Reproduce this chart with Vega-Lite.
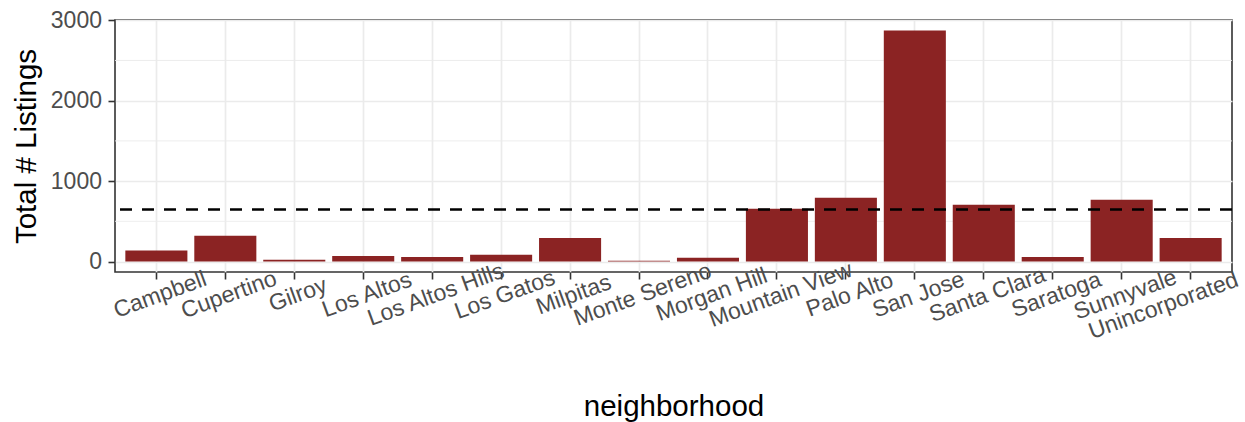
{
  "$schema": "https://vega.github.io/schema/vega-lite/v6.json",
  "autosize": {"type": "none"},
  "width": 1117,
  "height": 252,
  "padding": {"left": 115, "top": 20, "right": 13, "bottom": 150},
  "background": "white",
  "config": {
    "font": "Liberation Sans",
    "view": {"stroke": "#333333", "strokeWidth": 1.6},
    "axis": {
      "domain": false,
      "gridColor": "#EBEBEB",
      "gridWidth": 1.7,
      "tickColor": "#333333",
      "tickWidth": 1.6,
      "tickSize": 7,
      "labelColor": "#4D4D4D",
      "labelFont": "Liberation Sans",
      "labelFontSize": 23,
      "titleFont": "Liberation Sans",
      "titleFontSize": 29.5,
      "titleFontWeight": "normal",
      "titleColor": "#000000"
    }
  },
  "layer": [
    {
      "data": {"values": [{"n": 500}, {"n": 1500}, {"n": 2500}]},
      "mark": {"type": "rule", "color": "#EBEBEB", "strokeWidth": 0.9},
      "encoding": {
        "y": {"field": "n", "type": "quantitative", "scale": {"domain": [-130, 3003], "nice": false, "zero": false}}
      }
    },
    {
      "data": {
        "values": [
          {"neighborhood": "Campbell", "n": 137},
          {"neighborhood": "Cupertino", "n": 320},
          {"neighborhood": "Gilroy", "n": 21},
          {"neighborhood": "Los Altos", "n": 70},
          {"neighborhood": "Los Altos Hills", "n": 58},
          {"neighborhood": "Los Gatos", "n": 83},
          {"neighborhood": "Milpitas", "n": 294},
          {"neighborhood": "Monte Sereno", "n": 9},
          {"neighborhood": "Morgan Hill", "n": 46},
          {"neighborhood": "Mountain View", "n": 655},
          {"neighborhood": "Palo Alto", "n": 792},
          {"neighborhood": "San Jose", "n": 2873},
          {"neighborhood": "Santa Clara", "n": 705},
          {"neighborhood": "Saratoga", "n": 58},
          {"neighborhood": "Sunnyvale", "n": 767},
          {"neighborhood": "Unincorporated", "n": 294}
        ]
      },
      "mark": {"type": "bar", "color": "#8B2323"},
      "encoding": {
        "x": {
          "field": "neighborhood",
          "type": "nominal",
          "sort": null,
          "scale": {"paddingInner": 0.1, "paddingOuter": 0.15},
          "axis": {
            "title": "neighborhood",
            "grid": true,
            "bandPosition": 0.5,
            "labelAngle": -20,
            "labelAlign": "center",
            "labelBaseline": "top",
            "labelOffset": {"condition": {"test": "datum.value === 'Unincorporated'", "value": -31}, "value": 0},
            "labelPadding": {"condition": {"test": "datum.value === 'Unincorporated'", "value": 16}, "value": 5},
            "labelOverlap": false,
            "labelBound": false,
            "titleX": 558.5,
            "titleY": 143,
            "titleAlign": "center",
            "titleBaseline": "alphabetic"
          }
        },
        "y": {
          "field": "n",
          "type": "quantitative",
          "scale": {"domain": [-130, 3003], "nice": false, "zero": false},
          "axis": {
            "title": "Total # Listings",
            "values": [0, 1000, 2000, 3000],
            "format": "d",
            "grid": true,
            "labelPadding": 6.5,
            "titleAngle": -90,
            "titleX": -80,
            "titleY": 126,
            "titleAlign": "center",
            "titleBaseline": "alphabetic"
          }
        }
      }
    },
    {
      "data": {"values": [{"n": 647}]},
      "mark": {"type": "rule", "color": "#000000", "strokeWidth": 2.3, "strokeDash": [12, 10]},
      "encoding": {
        "y": {"field": "n", "type": "quantitative"}
      }
    }
  ]
}
